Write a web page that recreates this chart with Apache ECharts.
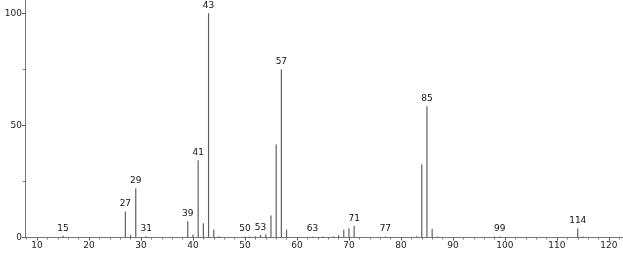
<!DOCTYPE html>
<html>
<head>
<meta charset="utf-8">
<script src="https://cdn.jsdelivr.net/npm/echarts@6/dist/echarts.min.js"></script>
<style>
html,body{margin:0;padding:0;background:#fff;}
#chart{width:623px;height:254px;}
</style>
</head>
<body>
<div id="chart"></div>
<script>
// m/z values and relative intensities
const mz = [15, 27, 28, 29, 31, 39, 40, 41, 42, 43, 44, 45, 50, 51, 52, 53, 54, 55, 56, 57, 58, 63, 65, 67, 68, 69, 70, 71, 77, 83, 84, 85, 86, 87, 98, 99, 114, 115];
const intensity = [0.8, 11.6, 1.2, 22.0, 0.6, 7.3, 1.3, 34.4, 6.3, 100, 3.6, 0.6, 0.5, 0.4, 0.6, 1.2, 1.3, 9.8, 41.5, 75, 3.5, 0.4, 0.5, 0.6, 1.0, 3.5, 4.1, 5.2, 0.5, 0.5, 32.6, 58.5, 3.9, 0.4, 0.4, 0.5, 4.0, 0.5];
const labeledPeaks = [15, 27, 29, 31, 39, 41, 43, 50, 53, 57, 63, 71, 77, 85, 99, 114];
const xMajorTicks = [10, 20, 30, 40, 50, 60, 70, 80, 90, 100, 110, 120];
const xMinorTicks = [8, 12, 14, 16, 18, 22, 24, 26, 28, 32, 34, 36, 38, 42, 44, 46, 48, 52, 54, 56, 58, 62, 64, 66, 68, 72, 74, 76, 78, 82, 84, 86, 88, 92, 94, 96, 98, 102, 104, 106, 108, 112, 114, 116, 118, 122];
const yMajorTicks = [0, 50, 100];
const yMinorTicks = [25, 75];

const chart = echarts.init(document.getElementById('chart'), null, {renderer: 'canvas'});
const FONT = 'DejaVu Sans';
const data = mz.map((m, i) => {
  const item = {value: [m, intensity[i]]};
  if (labeledPeaks.includes(m)) {
    item.label = {show: true};
  }
  return item;
});

chart.setOption({
  animation: false,
  backgroundColor: '#fff',
  grid: {left: 25, right: 0, top: 0, bottom: 16.5, containLabel: false},
  xAxis: [{
    type: 'value', min: 7.7, max: 122.7, position: 'bottom',
    axisLine: {show: true, onZero: false, lineStyle: {color: '#777', width: 1}},
    axisTick: {show: true, customValues: xMajorTicks, length: 3, lineStyle: {color: '#555'}},
    axisLabel: {show: true, customValues: xMajorTicks, margin: 4, color: '#222', fontSize: 9, fontFamily: FONT},
    splitLine: {show: false}
  }, {
    type: 'value', min: 7.7, max: 122.7, position: 'bottom',
    axisLine: {show: false, onZero: false},
    axisTick: {show: true, customValues: xMinorTicks, length: 2, lineStyle: {color: '#777'}},
    axisLabel: {show: false},
    splitLine: {show: false}
  }],
  yAxis: [{
    type: 'value', min: 0, max: 105.9, position: 'left',
    axisLine: {show: true, onZero: false, lineStyle: {color: '#777', width: 1}},
    axisTick: {show: true, customValues: yMajorTicks, length: 3, lineStyle: {color: '#555'}},
    axisLabel: {show: true, customValues: yMajorTicks, margin: 3, color: '#222', fontSize: 9, fontFamily: FONT},
    splitLine: {show: false}
  }, {
    type: 'value', min: 0, max: 105.9, position: 'left',
    axisLine: {show: false, onZero: false},
    axisTick: {show: true, customValues: yMinorTicks, length: 2, lineStyle: {color: '#777'}},
    axisLabel: {show: false},
    splitLine: {show: false}
  }],
  series: [{
    type: 'bar',
    xAxisIndex: 0, yAxisIndex: 0,
    barWidth: 1.2,
    itemStyle: {color: '#606060'},
    label: {show: false, position: 'top', distance: 3, color: '#111', fontSize: 9, fontFamily: FONT,
      formatter: p => String(p.value[0])},
    data: data
  }]
});
</script>
</body>
</html>
